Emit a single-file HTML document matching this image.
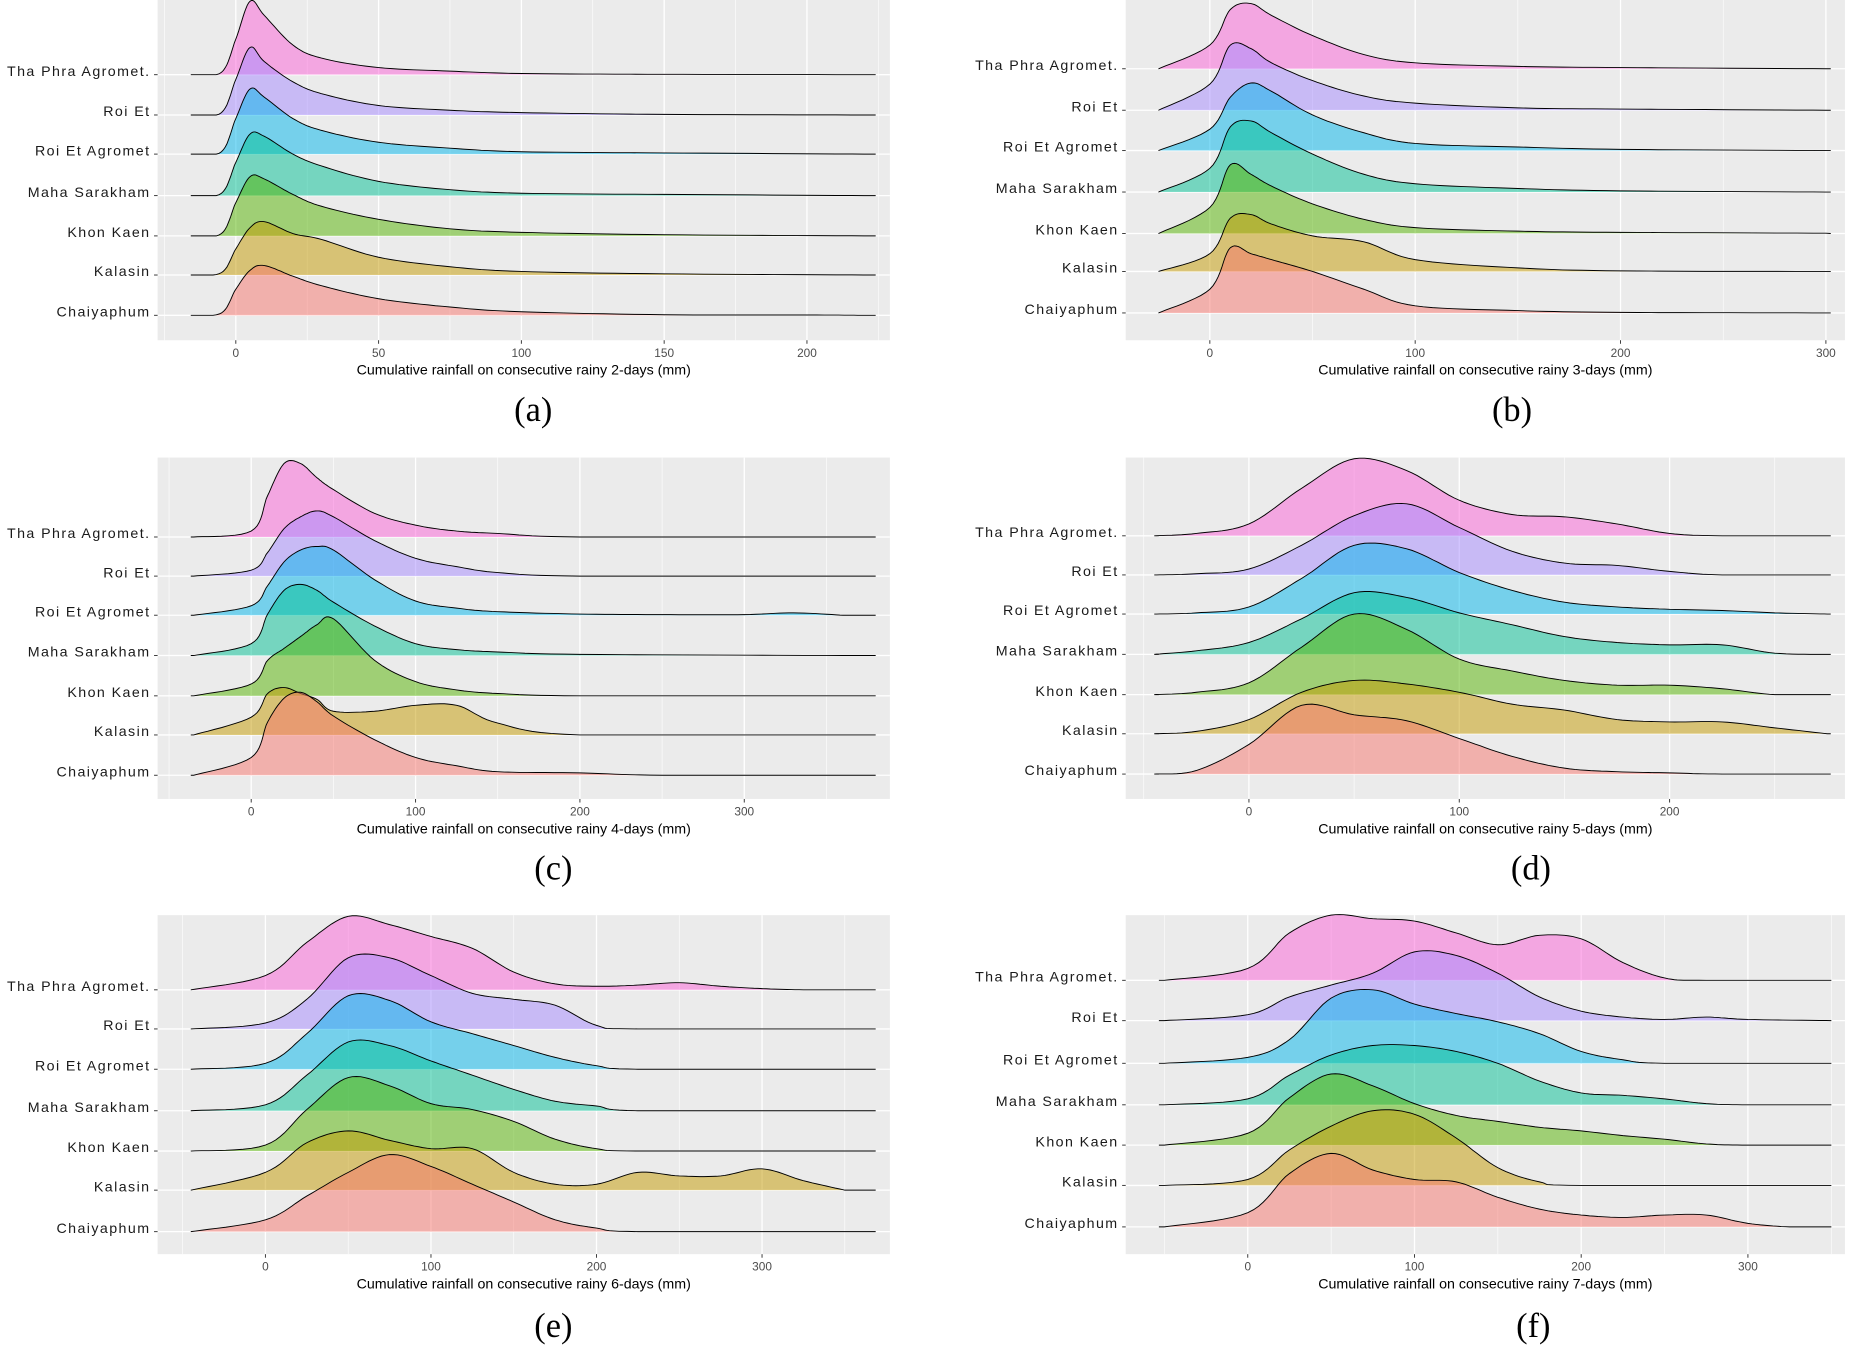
<!DOCTYPE html>
<html><head><meta charset="utf-8"><style>
html,body{margin:0;padding:0;background:#fff;}
svg{display:block;}
</style></head><body>
<svg id="fig" width="1858" height="1349" viewBox="0 0 1568 1138" preserveAspectRatio="none" xmlns="http://www.w3.org/2000/svg"></svg>
<script>
const stations = ["Tha Phra Agromet.","Roi Et","Roi Et Agromet","Maha Sarakham","Khon Kaen","Kalasin","Chaiyaphum"];
const colors = ["#FB61D7","#A58AFF","#00B6EB","#00C094","#53B400","#C49A00","#F8766D"];
const panelTitles = ["(a)","(b)","(c)","(d)","(e)","(f)"];
const axisTitles = ["Cumulative rainfall on consecutive rainy 2-days (mm)","Cumulative rainfall on consecutive rainy 3-days (mm)","Cumulative rainfall on consecutive rainy 4-days (mm)","Cumulative rainfall on consecutive rainy 5-days (mm)","Cumulative rainfall on consecutive rainy 6-days (mm)","Cumulative rainfall on consecutive rainy 7-days (mm)"];
const ticksA=[0,50,100,150,200], ticksB=[0,100,200,300], ticksC=[0,100,200,300], ticksD=[0,100,200], ticksE=[0,100,200,300], ticksF=[0,100,200,300];
const densA=[
[[-15,0],[-5,2],[0,30],[5,62],[10,50],[20,25],[30,14],[50,6],[75,3],[100,1],[150,0.3],[220,0]],
[[-15,0],[-5,2],[0,30],[5,57],[10,45],[20,28],[30,18],[50,8],[75,4],[100,2],[150,0.5],[220,0]],
[[-15,0],[-5,2],[0,30],[5,55],[10,48],[20,30],[30,20],[50,10],[75,5],[100,2],[150,1],[220,0]],
[[-15,0],[-5,2],[0,28],[5,52],[10,50],[20,35],[30,25],[50,12],[75,5],[100,2],[150,1],[220,0]],
[[-15,0],[-5,2],[0,28],[5,50],[10,48],[20,35],[30,25],[50,14],[75,6],[100,3],[150,1],[220,0]],
[[-15,0],[-5,2],[0,22],[5,40],[10,45],[20,35],[30,30],[50,15],[75,7],[100,3],[150,1],[220,0]],
[[-15,0],[-5,2],[0,22],[5,38],[10,42],[20,33],[30,25],[50,14],[75,7],[100,3],[150,0.5],[200,0.3],[220,0]]];
const densB=[
[[-25,0],[0,20],[10,50],[20,55],[30,45],[50,28],[75,12],[100,5],[150,2],[200,1],[300,0]],
[[-25,0],[0,22],[10,55],[20,52],[30,40],[50,25],[75,12],[100,6],[150,2],[200,1],[300,0]],
[[-25,0],[0,18],[10,45],[20,57],[30,50],[50,30],[75,15],[100,6],[150,3],[200,1],[300,0]],
[[-25,0],[0,20],[10,55],[20,60],[30,50],[50,32],[75,15],[100,7],[150,3],[200,1],[300,0]],
[[-25,0],[0,22],[10,58],[20,50],[30,40],[50,25],[75,12],[100,5],[150,2],[200,1],[300,0.3]],
[[-25,0],[0,15],[10,45],[20,48],[30,40],[50,30],[75,25],[100,10],[150,3],[200,0.5],[300,0]],
[[-25,0],[0,20],[10,55],[20,50],[30,45],[50,35],[75,20],[100,6],[150,2],[200,0.5],[300,0]]];
const densC=[
[[-35,0],[0,5],[10,35],[20,62],[30,62],[40,50],[50,40],[75,20],[100,10],[125,5],[150,3],[200,0],[360,0]],
[[-35,0],[0,5],[10,20],[20,40],[30,50],[40,55],[50,50],[75,30],[100,15],[125,8],[150,3],[200,0],[360,0]],
[[-35,0],[0,8],[10,25],[20,45],[30,55],[40,58],[50,55],[75,30],[100,12],[125,6],[150,3],[200,1],[250,0.5],[300,0.5],[330,2],[360,0]],
[[-35,0],[0,10],[10,35],[20,55],[30,60],[40,55],[50,45],[75,25],[100,10],[125,5],[150,3],[200,1],[360,0]],
[[-35,0],[0,10],[10,30],[20,40],[30,50],[40,60],[50,65],[75,30],[100,12],[125,5],[150,2],[200,0],[360,0]],
[[-35,0],[0,15],[10,35],[20,40],[30,35],[40,30],[50,20],[75,20],[100,25],[125,25],[150,10],[200,0],[360,0]],
[[-35,0],[0,15],[10,45],[20,65],[30,70],[40,62],[50,50],[75,30],[100,15],[125,8],[150,3],[200,2],[250,0],[360,0]]];
const densD=[
[[-45,0],[-25,2],[0,10],[25,40],[50,65],[75,55],[100,30],[125,18],[150,16],[175,10],[200,2],[225,0],[275,0]],
[[-45,0],[-25,1],[0,5],[25,25],[50,50],[75,60],[100,40],[125,20],[150,10],[175,8],[200,3],[225,0],[275,0]],
[[-45,0],[-25,1],[0,6],[25,30],[50,58],[75,55],[100,35],[125,20],[150,10],[175,6],[200,4],[225,3],[250,1],[275,0]],
[[-45,0],[-25,3],[0,10],[25,30],[50,52],[75,48],[100,35],[125,25],[150,15],[175,10],[200,8],[225,8],[250,1],[275,0]],
[[-45,0],[-25,2],[0,10],[25,40],[50,68],[75,55],[100,30],[125,20],[150,12],[175,8],[200,8],[225,5],[250,0],[275,0]],
[[-45,0],[-25,2],[0,12],[25,35],[50,45],[75,42],[100,35],[125,25],[150,20],[175,12],[200,10],[225,10],[250,5],[275,0]],
[[-45,0],[-25,3],[0,25],[25,58],[50,50],[75,45],[100,30],[125,15],[150,5],[175,2],[200,1],[225,0],[275,0]]];
const densE=[
[[-45,0],[0,12],[25,40],[50,62],[75,55],[100,45],[125,35],[150,15],[175,5],[200,3],[225,4],[250,6],[275,3],[300,1],[325,0],[350,0]],
[[-45,0],[0,5],[25,25],[50,60],[75,60],[100,45],[125,30],[150,25],[175,20],[200,3],[225,0],[350,0]],
[[-45,0],[0,5],[25,30],[50,62],[75,58],[100,40],[125,30],[150,20],[175,10],[200,3],[225,0],[350,0]],
[[-45,0],[0,5],[25,30],[50,58],[75,55],[100,42],[125,30],[150,18],[175,8],[200,4],[225,0],[350,0]],
[[-45,0],[0,5],[25,35],[50,62],[75,55],[100,40],[125,35],[150,25],[175,10],[200,2],[225,0],[350,0]],
[[-45,0],[0,15],[25,40],[50,50],[75,42],[100,35],[125,35],[150,15],[175,5],[200,5],[225,15],[250,12],[275,12],[300,18],[325,8],[350,0]],
[[-45,0],[0,10],[25,30],[50,50],[75,65],[100,55],[125,40],[150,25],[175,10],[200,3],[225,0],[350,0]]];
const densF=[
[[-50,0],[0,10],[25,40],[50,55],[75,52],[100,50],[125,40],[150,30],[175,38],[200,35],[225,15],[250,2],[275,0],[350,0]],
[[-50,0],[0,5],[25,20],[50,30],[75,40],[100,58],[125,55],[150,40],[175,20],[200,8],[225,3],[250,1],[275,3],[300,1],[350,0]],
[[-50,0],[0,5],[25,20],[50,55],[75,62],[100,50],[125,42],[150,35],[175,25],[200,10],[225,3],[250,0],[350,0]],
[[-50,0],[0,5],[25,25],[50,42],[75,50],[100,50],[125,45],[150,35],[175,20],[200,10],[225,8],[250,5],[275,1],[300,0],[350,0]],
[[-50,0],[0,10],[25,40],[50,60],[75,50],[100,35],[125,25],[150,20],[175,15],[200,12],[225,8],[250,5],[275,1],[300,0],[350,0]],
[[-50,0],[0,5],[25,30],[50,50],[75,63],[100,60],[125,40],[150,15],[175,3],[200,0],[350,0]],
[[-50,0],[0,12],[25,45],[50,62],[75,48],[100,40],[125,38],[150,25],[175,15],[200,10],[225,8],[250,10],[275,10],[300,3],[325,0],[350,0]]];

const panels=[
 {x0:133,x1:751,y0:0,y1:287,z:199,u:2.41,rows:[63,97,130,165,199,232,266],ticks:ticksA,dens:densA,cx:450,cy:345},
 {x0:950,x1:1557,y0:0,y1:287,z:1021,u:1.733,rows:[58,93,127,162,197,229,264],ticks:ticksB,dens:densB,cx:1276,cy:345},
 {x0:133,x1:751,y0:386,y1:674,z:212,u:1.387,rows:[453,486,519,553,587,620,654],ticks:ticksC,dens:densC,cx:467,cy:732},
 {x0:950,x1:1557,y0:386,y1:674,z:1054,u:1.775,rows:[452,485,518,552,586,619,653],ticks:ticksD,dens:densD,cx:1292,cy:732},
 {x0:133,x1:751,y0:772,y1:1058,z:224,u:1.397,rows:[835,868,902,937,971,1004,1039],ticks:ticksE,dens:densE,cx:467,cy:1118},
 {x0:950,x1:1557,y0:772,y1:1058,z:1053,u:1.407,rows:[827,861,897,932,966,1000,1035],ticks:ticksF,dens:densF,cx:1294,cy:1118}
];
const svg=document.getElementById('fig');
const NS="http://www.w3.org/2000/svg";
function mk(tag,attrs,parent){const e=document.createElementNS(NS,tag);for(const k in attrs)e.setAttribute(k,attrs[k]);(parent||svg).appendChild(e);return e;}
function spline(pts){const out=[];for(let i=0;i<pts.length-1;i++){const p0=pts[Math.max(0,i-1)],p1=pts[i],p2=pts[i+1],p3=pts[Math.min(pts.length-1,i+2)];for(let s=0;s<10;s++){const t=s/10,t2=t*t,t3=t2*t;const f=(a,b,c,d)=>0.5*((2*b)+(-a+c)*t+(2*a-5*b+4*c-d)*t2+(-a+3*b-3*c+d)*t3);out.push([f(p0[0],p1[0],p2[0],p3[0]),f(p0[1],p1[1],p2[1],p3[1])]);}}out.push(pts[pts.length-1]);return out;}
panels.forEach((p,pi)=>{
 const g=mk('g',{});
 
 
 const xs=v=>p.z+v*p.u;
 const bg=mk('rect',{x:p.x0,y:p.y0,width:p.x1-p.x0,height:p.y1-p.y0,fill:'#EBEBEB'},g);
 
 
 const step=p.ticks[1]-p.ticks[0];
 for(let v=p.ticks[0]-step*2;v<=p.ticks[p.ticks.length-1]+step*2;v+=step/2){const X=xs(v);if(X<p.x0||X>p.x1)continue;const major=(Math.round(v/step*2)%2===0);
  const gl=mk('line',{x1:X,x2:X,y1:p.y0,y2:p.y1,stroke:'#fff','stroke-width':major?1.1:0.5},g);
  
  }
 p.rows.forEach(r=>{const hl=mk('line',{x1:p.x0,x2:p.x1,y1:r,y2:r,stroke:'#fff','stroke-width':1.1},g);
  
  });
 p.dens.forEach((d,i)=>{
  const base=p.rows[i];
  const pts=spline(d.map(k=>[xs(k[0]),base-k[1]])).map(q=>[q[0],Math.min(base,q[1])]);
  const lx=p.x0+28,rx=p.x1-12;
  let top='M'+lx+','+base+' L'+pts.map(q=>q[0].toFixed(1)+','+q[1].toFixed(1)).join(' L')+' L'+rx+','+base;
  const fill=mk('path',{d:'M'+pts[0][0]+','+base+' L'+pts.map(q=>q[0].toFixed(1)+','+q[1].toFixed(1)).join(' L')+' Z',fill:colors[i],'fill-opacity':0.5,stroke:'none'},g);
  
  
  const line=mk('path',{d:top,fill:'none',stroke:'#000','stroke-width':0.8},g);
  
  
  const lab=mk('text',{x:p.x0-6,y:base+1,'text-anchor':'end','font-family':'Liberation Sans, sans-serif','font-size':12,'letter-spacing':'1.2',fill:'#1a1a1a'},g);
  lab.textContent=stations[i];
  
  
  const tk=mk('line',{x1:p.x0-3,x2:p.x0,y1:base,y2:base,stroke:'#333','stroke-width':0.8},g);
  
  
 });
 p.ticks.forEach(v=>{const X=xs(v);
  const tk=mk('line',{x1:X,x2:X,y1:p.y1,y2:p.y1+3,stroke:'#333','stroke-width':0.8},g);
  
  
  const t=mk('text',{x:X,y:p.y1+14,'text-anchor':'middle','font-family':'Liberation Sans, sans-serif','font-size':10,fill:'#4D4D4D'},g);
  t.textContent=v;
  
  });
 const at=mk('text',{x:(p.x0+p.x1)/2,y:p.y1+29,'text-anchor':'middle','font-family':'Liberation Sans, sans-serif','font-size':12,fill:'#000'},g);
 at.textContent=axisTitles[pi];
 
 
 const ct=mk('text',{x:p.cx,y:p.cy+10,'text-anchor':'middle','font-family':'Liberation Serif, serif','font-size':29,fill:'#000'},g);
 ct.textContent=panelTitles[pi];
 
 
});
</script>
</body></html>
